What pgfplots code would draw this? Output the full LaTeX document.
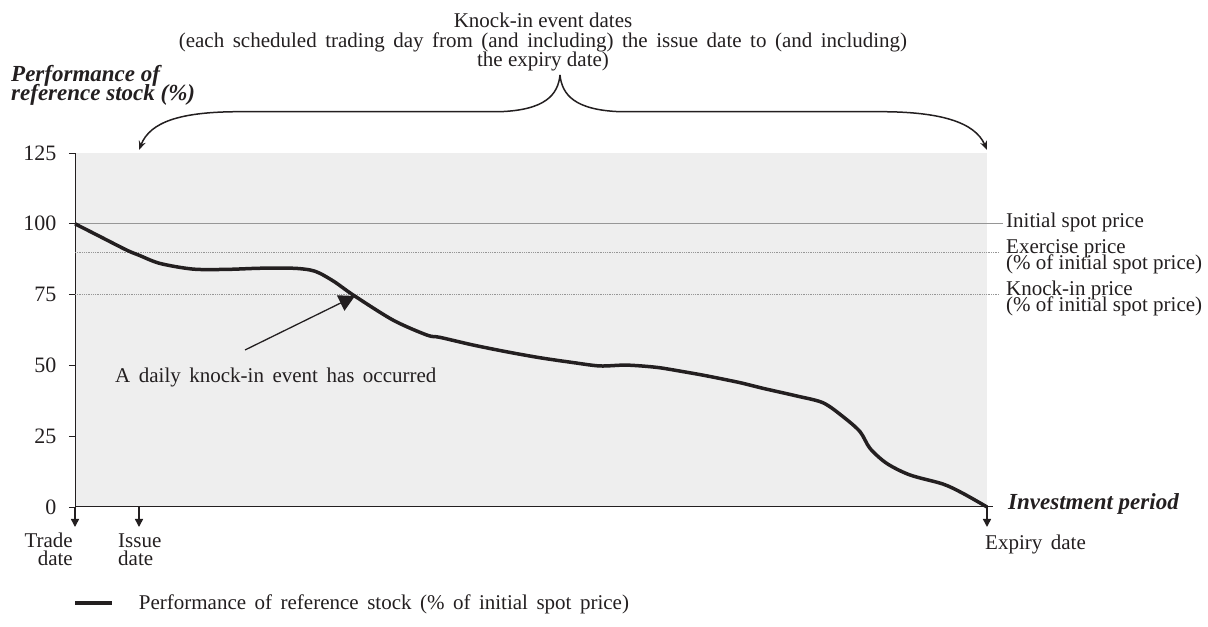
\documentclass[border=0pt]{standalone}
\usepackage{pgfplots}
\pgfplotsset{compat=1.18}
\usepackage{fontspec}
\setmainfont{Liberation Serif}
\usetikzlibrary{arrows.meta}
\definecolor{bgc}{RGB}{238,238,238}
\definecolor{ink}{RGB}{35,31,32}
\definecolor{gl}{RGB}{150,150,150}
\newcommand{\tf}{\fontsize{21bp}{17bp}\selectfont}
\newcommand{\wf}{\fontsize{21bp}{17bp}\selectfont\spaceskip=8.5bp plus 1bp}
\newcommand{\bif}{\fontsize{23bp}{18bp}\selectfont\bfseries\itshape}
\pgfplotstableread{
x y
0 100
25 95.5
51.7 90.7
64 88.9
85 86.0
118 84.0
151.7 83.9
185 84.3
218 84.3
235 83.7
245 82.5
260 79.4
278 74.9
318 66.0
352 60.7
365 59.9
398 57.2
431.7 54.8
465 52.7
498 51.0
525 49.8
551.7 50.1
581.7 49.3
608 47.8
631.7 46.3
665 43.9
688 41.9
721.7 39.2
748 36.8
768 31.9
785 26.6
795 20.7
811.7 15.4
835 11.3
868 8.1
888 4.8
912 0
}\stock
\begin{document}
\begin{tikzpicture}[x=1bp,y=1bp]
\useasboundingbox (0,0) rectangle (1208,627);
\begin{axis}[
  at={(75bp,120bp)}, anchor=south west,
  scale only axis, width=912bp, height=354bp,
  xmin=0, xmax=912, ymin=0, ymax=125,
  axis x line*=bottom, axis y line*=left,
  axis line style={-, line width=1bp, ink},
  x axis line style={shorten >=-6bp},
  xtick=\empty,
  ytick={0,25,50,75,100,125},
  tick align=outside, major tick length=6bp,
  ytick style={line width=0.8bp, ink},
  yticklabel style={font=\fontsize{22bp}{17bp}\selectfont, text=ink, xshift=-9bp},
  /pgf/number format/assume math mode=true,
  axis background/.style={fill=bgc},
  clip=false,
  legend style={draw=none, fill=none, at={(-0.002,-0.271)}, anchor=west,
    font=\wf, text=ink, inner sep=0pt, column sep=25bp, nodes={inner sep=0pt}},
  legend image code/.code={\draw[line width=3.5bp, ink] (0bp,0bp) -- (37bp,0bp);},
]
\addplot[draw=gl, line width=0.8bp, forget plot] coordinates {(0,100) (928,100)};
\addplot[draw=gl, line width=0.8bp, densely dotted, forget plot] coordinates {(0,90) (925,90)};
\addplot[draw=gl, line width=0.8bp, densely dotted, forget plot] coordinates {(0,75) (925,75)};
\addplot[ink, line width=3.5bp, smooth, tension=0.5, no marks] table[x=x,y=y] {\stock};
\addlegendentry{Performance of reference stock (\% of initial spot price)}
\end{axis}
% date arrows
\foreach \xx in {75,139,987} {
  \draw[ink, line width=1.5bp, -{Triangle[length=8bp,width=8bp]}] (\xx,120) -- (\xx,100);
}
% knock-in annotation arrow
\draw[ink, line width=1.3bp, -{Triangle[length=16bp,width=17bp]}] (245,277) -- (355,331);
\node[font=\wf, text=ink, anchor=base west, inner sep=0] at (115,244.3) {A daily knock-in event has occurred};
% brace
\draw[ink, line width=1.5bp, -{Stealth[length=9bp,width=7bp]}]
  (560,552) .. controls (558,532) and (545,517) .. (500,515.3) -- (240,515.3)
  .. controls (180,515.3) and (150,505) .. (139,477);
\draw[ink, line width=1.5bp, -{Stealth[length=9bp,width=7bp]}]
  (560,552) .. controls (562,532) and (575,517) .. (620,515.3) -- (880,515.3)
  .. controls (940,515.3) and (975,505) .. (987,477);
% top text
\node[font=\tf, text=ink, anchor=base, inner sep=0] at (543,599) {Knock-in event dates};
\node[font=\wf, text=ink, anchor=base, inner sep=0] at (543,579.5) {(each scheduled trading day from (and including) the issue date to (and including)};
\node[font=\tf, text=ink, anchor=base, inner sep=0] at (543,560) {the expiry date)};
% y title
\node[font=\bif, text=ink, anchor=base west, inner sep=0] at (11,545.5) {Performance of};
\node[font=\bif, text=ink, anchor=base west, inner sep=0] at (11,526.5) {reference stock (\%)};
% right labels
\node[font=\tf, text=ink, anchor=base west, inner sep=0] at (1006,399.5) {Initial spot price};
\node[font=\tf, text=ink, anchor=base west, inner sep=0] at (1006,373.7) {Exercise price};
\node[font=\tf, text=ink, anchor=base west, inner sep=0] at (1006,357) {(\% of initial spot price)};
\node[font=\tf, text=ink, anchor=base west, inner sep=0] at (1006,331.3) {Knock-in price};
\node[font=\tf, text=ink, anchor=base west, inner sep=0] at (1006,315) {(\% of initial spot price)};
\node[font=\bif, text=ink, anchor=base west, inner sep=0] at (1008,117) {Investment period};
% bottom labels
\node[font=\tf, text=ink, anchor=base east, inner sep=0] at (73,79) {Trade};
\node[font=\tf, text=ink, anchor=base east, inner sep=0] at (73,61) {date};
\node[font=\tf, text=ink, anchor=base west, inner sep=0] at (118,79) {Issue};
\node[font=\tf, text=ink, anchor=base west, inner sep=0] at (118,61) {date};
\node[font=\wf, text=ink, anchor=base west, inner sep=0] at (985,77) {Expiry date};
\end{tikzpicture}
\end{document}
